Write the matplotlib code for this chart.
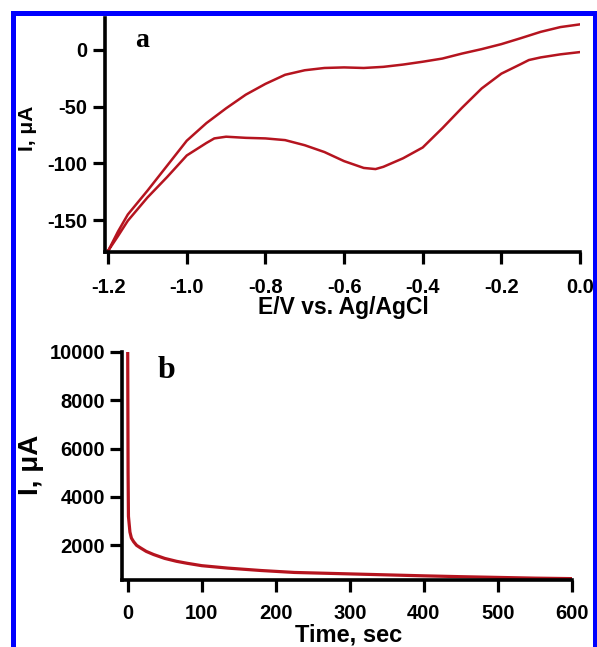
import matplotlib
matplotlib.use("Agg")
import matplotlib.pyplot as plt
from matplotlib.patches import Rectangle
from matplotlib.ticker import FormatStrFormatter

plt.rcParams['font.family'] = ['Liberation Sans', 'DejaVu Sans']
plt.rcParams['axes.unicode_minus'] = False

# panel a: cyclic voltammogram (cathodic sweep 0 -> -1.2 V, then back)
e_cath = [0.0, -0.05, -0.10, -0.13, -0.15, -0.20, -0.25, -0.30, -0.35, -0.40,
          -0.45, -0.50, -0.52, -0.55, -0.60, -0.65, -0.70, -0.75, -0.80, -0.85,
          -0.90, -0.93, -0.95, -1.00, -1.05, -1.10, -1.15, -1.175, -1.20]
i_cath = [-2, -4, -6.7, -9, -12.5, -21, -34, -51, -69, -86,
          -95.5, -103, -105, -104, -98, -90, -84, -79.5, -78, -77.5,
          -76.5, -78, -82, -93, -112, -130, -150.5, -164, -177]
e_anod = [-1.20, -1.175, -1.15, -1.10, -1.05, -1.00, -0.95, -0.90, -0.85, -0.80,
          -0.75, -0.70, -0.65, -0.60, -0.55, -0.50, -0.45, -0.40, -0.35, -0.30,
          -0.25, -0.20, -0.15, -0.10, -0.05, 0.0]
i_anod = [-177, -160, -145, -124, -102, -80, -64.5, -51.5, -39.5, -30,
          -22, -18, -16, -15.5, -16, -15, -13, -10.5, -7.7, -3.3,
          0.6, 5, 10.3, 15.8, 20, 22.4]

# panel b: chronoamperometry
t_sec = [0, 0.5, 1, 3, 5, 8, 12, 17, 25, 35, 50, 66, 80, 100, 135, 180,
         225, 250, 300, 350, 400, 450, 500, 550, 600]
i_ua = [10000, 5000, 3200, 2550, 2300, 2150, 2000, 1900, 1750, 1620, 1460,
        1340, 1260, 1160, 1060, 960, 880, 860, 820, 780, 740, 705, 675, 645, 625]

red = '#b5141f'

fig = plt.figure(figsize=(5.97, 6.47), dpi=100)

def style(ax, xpad):
    for s in ['top', 'right']:
        ax.spines[s].set_visible(False)
    for s in ['left', 'bottom']:
        ax.spines[s].set_linewidth(2.6)
    ax.tick_params(direction='out', length=8.5, width=2.3, labelsize=14.5)
    ax.tick_params(axis='x', pad=xpad)
    ax.tick_params(axis='y', pad=4)
    for lab in ax.get_xticklabels() + ax.get_yticklabels():
        lab.set_fontweight('bold')

# ---- a ----
ax1 = fig.add_axes([105/597, 1-252/647, 475/597, 234/647])
ax1.plot(e_cath + e_anod, i_cath + i_anod, color=red, lw=1.8)
ax1.set_xlim(-1.208, 0.0)
ax1.set_ylim(-178, 28)
ax1.set_xticks([-1.2, -1.0, -0.8, -0.6, -0.4, -0.2, 0.0])
ax1.set_yticks([0, -50, -100, -150])
ax1.xaxis.set_major_formatter(FormatStrFormatter('%.1f'))
style(ax1, 10.5)
ax1.set_xlabel('E/V vs. Ag/AgCl', fontsize=16.5, fontweight='bold')
ax1.xaxis.set_label_coords(0.502, -0.19)
ax1.set_ylabel('I, μA', fontsize=15, fontweight='bold')
ax1.yaxis.set_label_coords(-0.143, 0.53)

# ---- b ----
ax2 = fig.add_axes([122.3/597, 1-580/647, 449.7/597, 228.3/647])
ax2.plot(t_sec, i_ua, color=red, lw=2.3)
ax2.set_xlim(-7.3, 600)
ax2.set_ylim(568, 10000)
ax2.set_xticks([0, 100, 200, 300, 400, 500, 600])
ax2.set_yticks([2000, 4000, 6000, 8000, 10000])
style(ax2, 9)
ax2.set_xlabel('Time, sec', fontsize=17, fontweight='bold')
ax2.xaxis.set_label_coords(0.504, -0.192)
ax2.set_ylabel('I, μA', fontsize=20, fontweight='bold')
ax2.yaxis.set_label_coords(-0.174, 0.504)

# panel letters
fig.text(142.5/597, 1-47/647, 'a', fontsize=20, fontweight='bold',
         family='Liberation Serif', ha='center', va='baseline')
fig.text(166.5/597, 1-378/647, 'b', fontsize=23, fontweight='bold',
         family='Liberation Serif', ha='center', va='baseline')

# blue frame around the figure
fig.patches.append(Rectangle((12.5/597, -0.05), (595-12.5)/597, 1.05-12.5/647,
                             transform=fig.transFigure, fill=False,
                             edgecolor='#0000ff', lw=3.6, zorder=10))

fig.savefig('out.png', dpi=100)
